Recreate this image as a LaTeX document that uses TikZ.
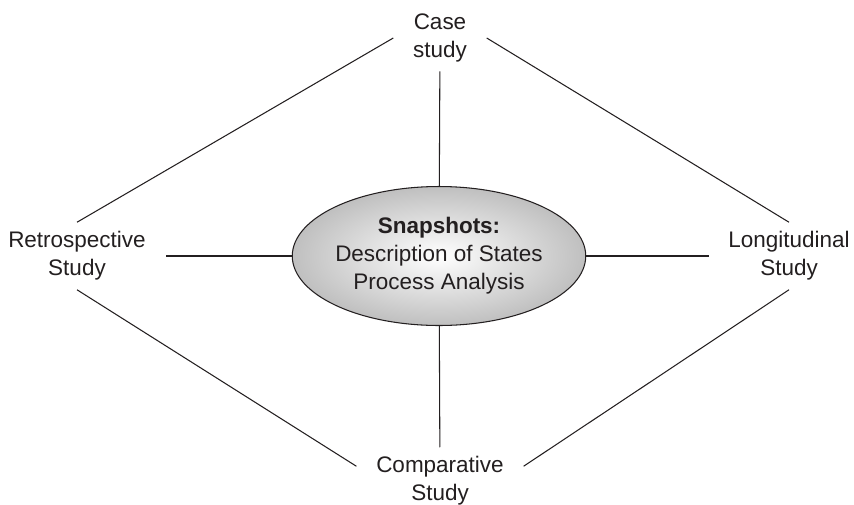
\documentclass[tikz,border=0pt]{standalone}
\usepackage{fontspec}
\setmainfont{Liberation Sans}
\usetikzlibrary{shapes}
\definecolor{ink}{HTML}{231F20}

\begin{document}
\begin{tikzpicture}[x=0.02cm,y=-0.02cm,line width=0.6pt,color=ink,
  txt/.style={align=center,inner xsep=11pt,inner ysep=5pt,font=\fontsize{12.8}{15.9}\selectfont},
  snap/.style={ellipse,draw,align=center,inner sep=0pt,font=\fontsize{12.8}{15.9}\selectfont,
    minimum width=5.8cm,minimum height=2.78cm,inner color=white,outer color=black!25}]
\useasboundingbox (0,0) rectangle (854,504);
\node[snap] (snap) at (439,256) {\textbf{Snapshots:}\\Description of States\\Process Analysis};
\node[txt] (case) at (440,38) {Case\\study};
\node[txt] (retro) at (77,256) {Retrospective\\Study};
\node[txt] (longi) at (789,256) {Longitudinal\\Study};
\node[txt] (compar) at (440,481) {Comparative\\Study};
% spokes
\draw (snap) -- (case); \draw (snap) -- (compar);
\draw (snap) -- (retro); \draw (snap) -- (longi);
% outer diamond
\draw (retro.north) -- (case.west) (case.east) -- (longi.north);
\draw (retro.south) -- (compar.170) (compar.10) -- (longi.south);
\end{tikzpicture}
\end{document}
